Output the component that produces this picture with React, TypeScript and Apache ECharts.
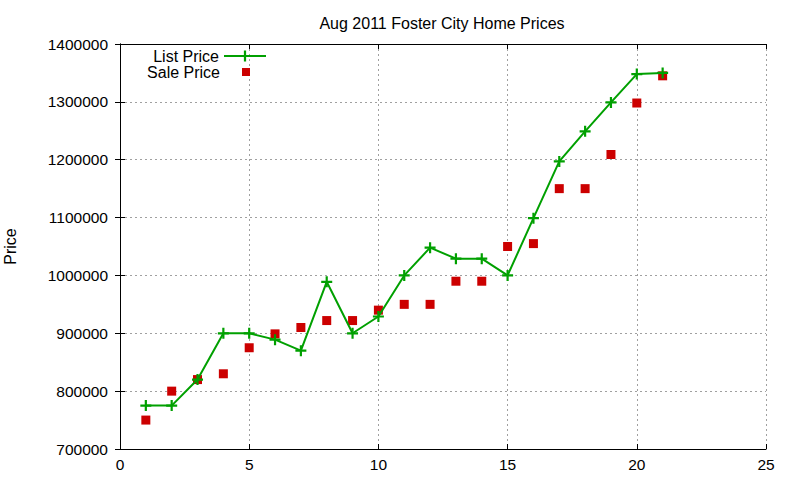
import { useRef, useEffect } from "react";
import * as echarts from "echarts";

const days = [1, 2, 3, 4, 5, 6, 7, 8, 9, 10, 11, 12, 13, 14, 15, 16, 17, 18, 19, 20, 21];
const listPrice = [
  775000, 775000, 820000, 900000, 900000, 889000, 870000, 989000, 900000, 929000, 1000000,
  1048000, 1029000, 1029000, 1000000, 1099000, 1197000, 1249000, 1299000, 1348000, 1350000,
];
const salePrice = [
  750000, 800000, 820000, 830000, 875000, 899000, 910000, 922000, 922000, 940000, 950000,
  950000, 990000, 990000, 1050000, 1055000, 1150000, 1150000, 1209000, 1298000, 1345000,
];

const FONT = "Liberation Sans, Arial, sans-serif";
const GREEN = "#00a000";
const RED = "#cc0000";
// filled plus sign, gnuplot point type 1
const PLUS = "path://M4,0 H6 V4 H10 V6 H6 V10 H4 V6 H0 V4 H4 Z";
// 8x8 square centred in a 42x14 legend box
const KEY_SQUARE = "path://M0,0 L0,0 M42,14 L42,14 M17,3 H25 V11 H17 Z";

export default function App() {
  const chartRef = useRef<HTMLDivElement>(null);

  useEffect(() => {
    if (!chartRef.current) return;
    const chart = echarts.init(chartRef.current, undefined, { renderer: "svg" });

    const tickLabel = { color: "#000", fontSize: 15.5, fontFamily: FONT };
    const gridLine = { color: "#a0a0a0", type: [2, 3] as number[], width: 1 };
    const mirrorTick = { show: true, inside: true, length: 5, lineStyle: { color: "#000" } };
    const legendText = { fontSize: 16, color: "#000", fontFamily: FONT };

    const option: echarts.EChartsOption = {
      animation: false,
      backgroundColor: "#fff",
      title: {
        text: "Aug 2011 Foster City Home Prices",
        left: 437,
        top: 10,
        textAlign: "center",
        textStyle: { fontSize: 16, fontWeight: "normal", color: "#000", fontFamily: FONT },
      },
      grid: {
        left: 120,
        right: 34,
        top: 44,
        bottom: 31,
        containLabel: false,
        outerBoundsMode: "none",
      } as any,
      legend: [
        {
          data: ["List Price"],
          right: 533,
          top: 48,
          padding: 0,
          align: "right",
          itemWidth: 42,
          itemHeight: 14,
          textStyle: legendText,
        },
        {
          data: [{ name: "Sale Price", icon: KEY_SQUARE }],
          right: 533,
          top: 64,
          padding: 0,
          align: "right",
          itemWidth: 42,
          itemHeight: 14,
          textStyle: legendText,
        },
      ],
      xAxis: [
        {
          type: "value",
          min: 0,
          max: 25,
          interval: 5,
          axisLine: { lineStyle: { color: "#000", width: 1 } },
          axisTick: mirrorTick,
          axisLabel: { ...tickLabel, margin: 7 },
          splitLine: { show: true, lineStyle: gridLine },
        },
        {
          type: "value",
          position: "top",
          min: 0,
          max: 25,
          interval: 5,
          axisLine: { show: true, lineStyle: { color: "#000", width: 1 } },
          axisTick: mirrorTick,
          axisLabel: { show: false },
          splitLine: { show: false },
        },
      ],
      yAxis: [
        {
          type: "value",
          min: 700000,
          max: 1400000,
          interval: 100000,
          name: "Price",
          nameLocation: "middle",
          nameGap: 102,
          nameTextStyle: { fontSize: 16, color: "#000", fontFamily: FONT },
          axisLine: { show: true, lineStyle: { color: "#000", width: 1 } },
          axisTick: mirrorTick,
          axisLabel: { ...tickLabel, margin: 12, formatter: (v: number) => String(v) },
          splitLine: { show: true, lineStyle: gridLine },
        },
        {
          type: "value",
          position: "right",
          min: 700000,
          max: 1400000,
          interval: 100000,
          axisLine: { show: true, lineStyle: { color: "#000", width: 1 } },
          axisTick: mirrorTick,
          axisLabel: { show: false },
          splitLine: { show: false },
        },
      ],
      series: [
        {
          name: "List Price",
          type: "line",
          data: days.map((d, i) => [d, listPrice[i]]),
          symbol: PLUS,
          symbolSize: 11,
          lineStyle: { color: GREEN, width: 2 },
          itemStyle: { color: GREEN },
        },
        {
          name: "Sale Price",
          type: "scatter",
          data: days.map((d, i) => [d, salePrice[i]]),
          symbol: "rect",
          symbolSize: 9,
          itemStyle: { color: RED, opacity: 1 },
        },
      ],
    };

    chart.setOption(option);
    return () => chart.dispose();
  }, []);

  return (
    <div
      ref={chartRef}
      style={{ position: "absolute", left: 0, top: 0, width: 800, height: 480 }}
    />
  );
}
